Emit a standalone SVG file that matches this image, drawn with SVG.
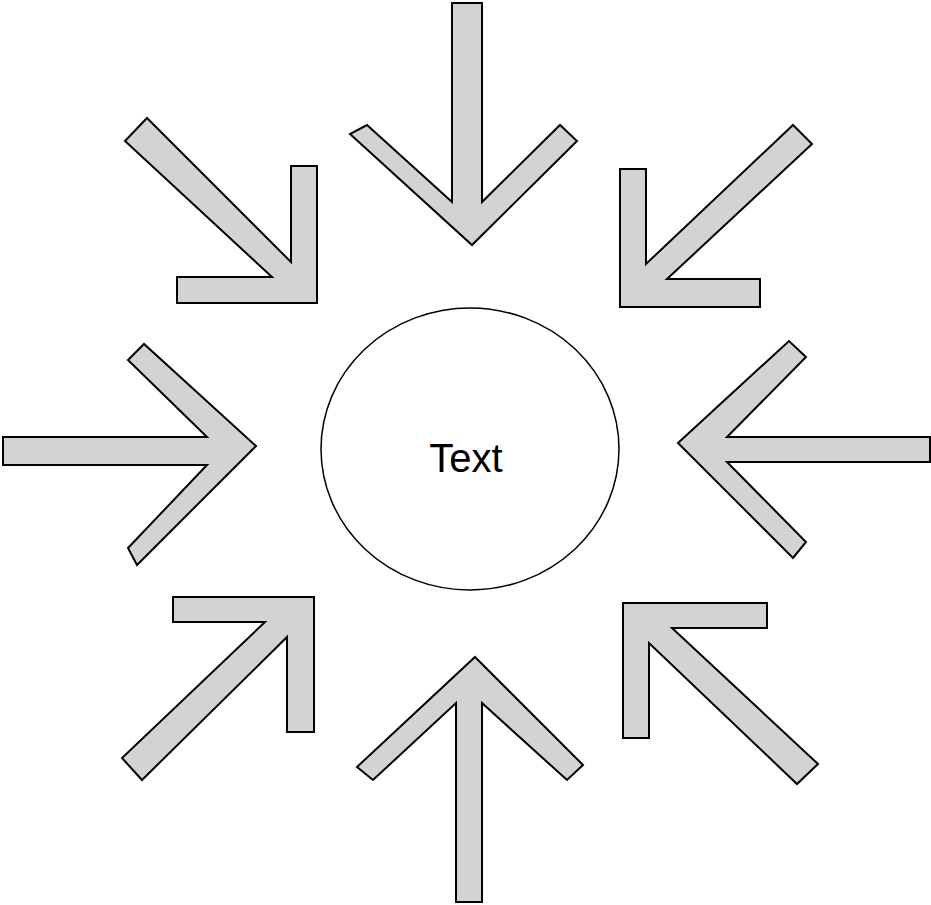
<svg xmlns="http://www.w3.org/2000/svg" width="931" height="905" viewBox="0 0 931 905">
<style>
.arr{fill:#d3d3d3;stroke:#000;stroke-width:2;stroke-linejoin:miter}
.node{fill:#fff;stroke:#000;stroke-width:1.5}
.lbl{font-family:"Liberation Sans",Arial,sans-serif;font-size:40px;fill:#000}
</style>
<rect width="931" height="905" fill="#fff"/>
<g id="connectors">
<polygon class="arr" points="452,3 482,3 482,202 560,125 577,141 472,245 350,134 367,125 452,202"/>
<polygon class="arr" points="147,118 291,262 291,166 317,166 317,303 177,303 177,277 272,277 125,141"/>
<polygon class="arr" points="793,125 812,144 667,279 760,279 760,307 620,307 620,169 646,169 646,264"/>
<polygon class="arr" points="3,437 207,437 128,360 144,344 256,446 137,565 128,548 207,465 3,465"/>
<polygon class="arr" points="678,443 789,341 806,357 727,437 930,437 930,462 727,462 806,542 793,558"/>
<polygon class="arr" points="173,597 314,597 314,732 287,732 287,637 142,780 122,758 265,622 173,622"/>
<polygon class="arr" points="623,603 767,603 767,628 672,628 818,764 797,784 649,643 649,738 623,738"/>
<polygon class="arr" points="475,657 583,765 567,780 482,703 482,902 456,902 456,703 373,780 357,767"/>
</g>
<g id="center">
<ellipse class="node" cx="470" cy="449" rx="149" ry="141"/>
<text class="lbl" x="466" y="472" text-anchor="middle">Text</text>
</g>
</svg>
